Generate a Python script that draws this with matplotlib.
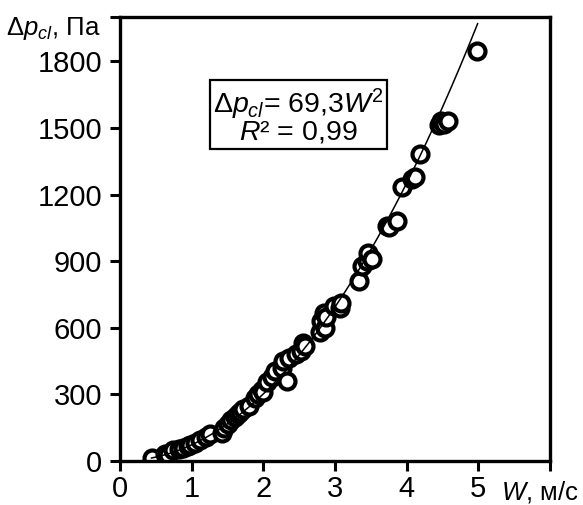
import matplotlib
matplotlib.use("Agg")
import matplotlib.pyplot as plt
import numpy as np

plt.rcParams['font.family'] = ['Liberation Sans', 'DejaVu Sans']
plt.rcParams['mathtext.fontset'] = 'custom'
plt.rcParams['mathtext.rm'] = 'Liberation Sans'
plt.rcParams['mathtext.it'] = 'Liberation Sans:italic'
plt.rcParams['mathtext.bf'] = 'Liberation Sans:bold'

# data (W, m/s ; dp, Pa)
W = [0.44, 0.63, 0.67, 0.74, 0.82, 0.88, 0.95, 0.98, 1.05, 1.12, 1.20, 1.26,
     1.42, 1.45, 1.50, 1.55, 1.60, 1.65, 1.68, 1.72, 1.80, 1.88, 1.92, 1.98,
     2.00, 2.05, 2.12, 2.16, 2.26, 2.28, 2.33, 2.36, 2.45, 2.53, 2.56, 2.58,
     2.79, 2.81, 2.84, 2.86, 2.88, 2.98, 3.07, 3.09, 3.33, 3.37, 3.44, 3.46,
     3.51, 3.72, 3.76, 3.86, 3.93, 4.07, 4.11, 4.18, 4.45, 4.48, 4.52, 4.57,
     4.98]
DP = [15, 30, 25, 48, 55, 60, 68, 72, 80, 95, 110, 122,
      125, 150, 165, 185, 200, 210, 220, 235, 250, 285, 300, 320,
      310, 355, 380, 405, 420, 450, 360, 465, 480, 495, 530, 520,
      580, 630, 665, 600, 650, 700, 690, 710, 810, 880, 900, 935,
      910, 1060, 1055, 1080, 1232, 1270, 1280, 1385, 1515, 1530, 1520, 1530,
      1845]

# trend line (as drawn in the reference)
fit_a = 73.0
fit_b = 2.05
fit_range = (0.44, 4.99)

x_ticks = [0, 1, 2, 3, 4, 5, 6]
x_tick_labels = ['0', '1', '2', '3', '4', '5', '']
y_ticks = [0, 300, 600, 900, 1200, 1500, 1800, 2000]
y_tick_labels = ['0', '300', '600', '900', '1200', '1500', '1800', '']

FS = 21
FS_LAB = 18.5
FS_BOX = 20.5

fig = plt.figure(figsize=(5.83, 5.05), dpi=100)
ax = fig.add_axes([120/583, 1-461/505, 430/583, 444/505])

wl = np.linspace(fit_range[0], fit_range[1], 200)
ax.plot(wl, fit_a * wl**fit_b, color='black', lw=1.1, zorder=3)
ax.plot(W, DP, 'o', ms=11.5, mfc='white', mec='black', mew=3.0, zorder=2)

ax.set_xlim(0, 6)
ax.set_ylim(0, 2000)
ax.set_xticks(x_ticks)
ax.set_xticklabels(x_tick_labels)
ax.set_yticks(y_ticks)
ax.set_yticklabels(y_tick_labels)
ax.tick_params(direction='out', length=7, width=2.2, labelsize=FS)
ax.tick_params(axis='x', pad=3)
ax.tick_params(axis='y', pad=6)
for s in ax.spines.values():
    s.set_linewidth(2.4)

fig.text(100/583, 1-28/505, r'$\Delta p_{cl}$, Па', ha='right', va='center',
         fontsize=FS_LAB)
fig.text(501/583, 1-492/505, r'$W$, м/с', ha='left', va='center',
         fontsize=FS_LAB)

ax.text(0.415, 0.777, r'$\Delta p_{cl}$= 69,3$W^2$' + '\n' + r'$R$² = 0,99',
        transform=ax.transAxes, ha='center', va='center', fontsize=FS_BOX,
        linespacing=0.85,
        bbox=dict(boxstyle='square,pad=0.12', fc='white', ec='black', lw=1.6))

fig.savefig('out.png', dpi=100)
